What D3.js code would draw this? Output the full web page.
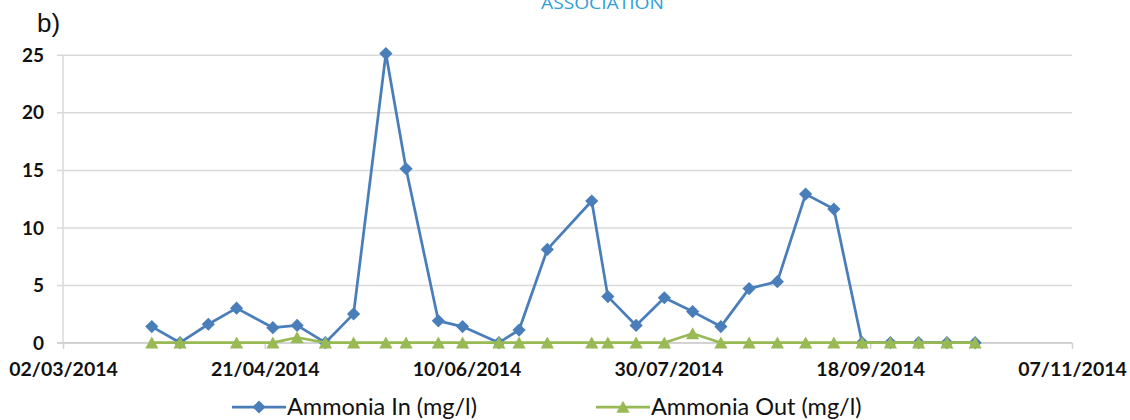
<!DOCTYPE html>
<html>
<head>
<meta charset="utf-8">
<script src="https://cdn.jsdelivr.net/npm/d3@7"></script>
<style>
  html, body { margin: 0; padding: 0; background: #fff; }
  svg { display: block; }
</style>
</head>
<body>
<svg id="chart" width="1130" height="420"></svg>
<script>
// ---- data ----
const inDates = ["24/03/2014","31/03/2014","07/04/2014","14/04/2014","23/04/2014","29/04/2014","06/05/2014","13/05/2014","21/05/2014","26/05/2014","03/06/2014","09/06/2014","18/06/2014","23/06/2014","30/06/2014","11/07/2014","15/07/2014","22/07/2014","29/07/2014","05/08/2014","12/08/2014","19/08/2014","26/08/2014","02/09/2014","09/09/2014","16/09/2014","23/09/2014","30/09/2014","07/10/2014","14/10/2014"];
const inValues = [1.4,0,1.6,3.0,1.3,1.5,0,2.5,25.1,15.1,1.9,1.4,0,1.1,8.1,12.3,4.0,1.5,3.9,2.7,1.4,4.7,5.3,12.9,11.6,0,0,0,0,0];
const outDates = ["24/03/2014","31/03/2014","14/04/2014","23/04/2014","29/04/2014","06/05/2014","13/05/2014","21/05/2014","26/05/2014","03/06/2014","09/06/2014","18/06/2014","23/06/2014","30/06/2014","11/07/2014","15/07/2014","22/07/2014","29/07/2014","05/08/2014","12/08/2014","19/08/2014","26/08/2014","02/09/2014","09/09/2014","16/09/2014","23/09/2014","30/09/2014","07/10/2014","14/10/2014"];
const outValues = [0,0,0,0,0.45,0,0,0,0,0,0,0,0,0,0,0,0,0,0.8,0,0,0,0,0,0,0,0,0,0];
const xTickLabels = ["02/03/2014","21/04/2014","10/06/2014","30/07/2014","18/09/2014","07/11/2014"];
const yTickValues = [0,5,10,15,20,25];
const seriesNames = ["Ammonia In (mg/l)","Ammonia Out (mg/l)"];

// ---- setup ----
const parse = d3.utcParse("%d/%m/%Y");
const svg = d3.select("#chart");
const mLeft = 63, mRight = 1072, mTop = 54.7, mBottom = 342.7;
const blue = "#4a7ebb", green = "#98b954";
const axisFont = "Lato, 'Open Sans', sans-serif";

const x = d3.scaleUtc()
  .domain([parse(xTickLabels[0]), parse(xTickLabels[xTickLabels.length-1])])
  .range([mLeft, mRight]);
const y = d3.scaleLinear().domain([0, 25]).range([mBottom, mTop]);

// header texts
svg.append("text").attr("x", 541).attr("y", 9)
  .attr("font-family", "'Open Sans', sans-serif").attr("font-size", 16)
  .attr("fill", "#2f9fd8").attr("textLength", 123).attr("lengthAdjust", "spacingAndGlyphs")
  .text("ASSOCIATION");
svg.append("text").attr("x", 37).attr("y", 32)
  .attr("font-family", "'Liberation Sans', Arial, sans-serif").attr("font-size", 26)
  .attr("fill", "#111").text("b)");

// gridlines + y axis
const yAxis = d3.axisLeft(y).tickValues(yTickValues).tickSize(-(mRight - mLeft)).tickPadding(20).tickFormat(d3.format("d"));
const gy = svg.append("g").attr("transform", `translate(${mLeft},0)`).call(yAxis);
gy.select(".domain").attr("stroke", "#d9d9d9").attr("stroke-width", 1.5).attr("d", `M0,${mTop}V${mBottom}`);
gy.selectAll(".tick line").attr("stroke", "#d9d9d9").attr("stroke-width", 1.5).attr("x1", -6);
gy.selectAll(".tick text").attr("font-family", axisFont).attr("font-weight", "bold")
  .attr("font-size", 19).attr("fill", "#111").attr("x", -19).attr("dy", "0.35em");

// x axis
const xAxis = d3.axisBottom(x).tickValues(xTickLabels.map(parse)).tickSize(6).tickPadding(13)
  .tickFormat(d3.utcFormat("%d/%m/%Y"));
const gx = svg.append("g").attr("transform", `translate(0,${mBottom})`).call(xAxis);
gx.select(".domain").attr("stroke", "#d0d0d0").attr("stroke-width", 1.5).attr("d", `M${mLeft-6},0H${mRight}`);
gx.selectAll(".tick line").attr("stroke", "#d0d0d0").attr("stroke-width", 1.5);
gx.selectAll(".tick text").attr("font-family", axisFont).attr("font-weight", "bold")
  .attr("font-size", 19.5).attr("fill", "#111");

// markers
const diamond = (s) => `M0,${-s}L${s},0L0,${s}L${-s},0Z`;
const triangle = "M0,-6.3L6.6,5.7L-6.6,5.7Z";

const inData = inDates.map((d, i) => ({ date: parse(d), value: inValues[i] }));
const outData = outDates.map((d, i) => ({ date: parse(d), value: outValues[i] }));
const line = d3.line().x(d => x(d.date)).y(d => y(d.value));

svg.append("path").datum(inData).attr("d", line).attr("fill", "none")
  .attr("stroke", blue).attr("stroke-width", 2.75).attr("stroke-linejoin", "round");
svg.append("g").selectAll("path").data(inData).join("path")
  .attr("transform", d => `translate(${x(d.date)},${y(d.value)})`)
  .attr("d", diamond(6.6)).attr("fill", blue);

svg.append("path").datum(outData).attr("d", line).attr("fill", "none")
  .attr("stroke", green).attr("stroke-width", 2.75).attr("stroke-linejoin", "round");
svg.append("g").selectAll("path").data(outData).join("path")
  .attr("transform", d => `translate(${x(d.date)},${y(d.value)})`)
  .attr("d", triangle).attr("fill", green);

// legend
const legend = svg.append("g").attr("font-family", axisFont).attr("font-size", 23.5).attr("fill", "#111");
const legendItems = [
  { name: seriesNames[0], color: blue, x0: 232, shape: diamond(6.6) },
  { name: seriesNames[1], color: green, x0: 596, shape: triangle }
];
const ly = 407;
legendItems.forEach(it => {
  legend.append("line").attr("x1", it.x0).attr("x2", it.x0 + 54).attr("y1", ly).attr("y2", ly)
    .attr("stroke", it.color).attr("stroke-width", 2.75);
  legend.append("path").attr("transform", `translate(${it.x0 + 27},${ly})`).attr("d", it.shape).attr("fill", it.color);
  legend.append("text").attr("x", it.x0 + 55).attr("y", ly).attr("dy", "0.35em").text(it.name);
});
</script>
</body>
</html>
